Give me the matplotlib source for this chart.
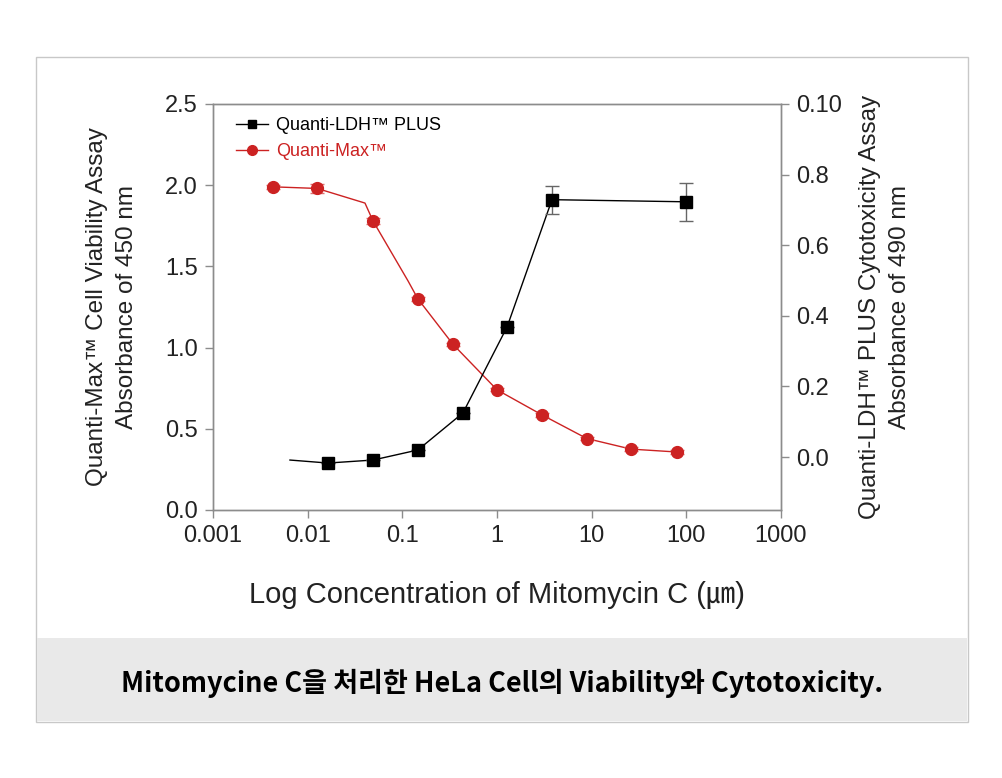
import matplotlib
matplotlib.use("Agg")
import matplotlib.pyplot as plt
from matplotlib.patches import Rectangle

# Quanti-Max (left axis, absorbance 450 nm)
max_conc = [0.0043, 0.0126, 0.049, 0.146, 0.343, 1.0, 3.0, 8.9, 26, 80]
max_abs = [1.99, 1.98, 1.78, 1.30, 1.02, 0.74, 0.585, 0.44, 0.375, 0.357]
max_err = [0.012, 0.025, 0.02, 0.012, 0.01, 0.01, 0.01, 0.01, 0.01, 0.01]
# fitted curve drawn under the markers
max_fit_x = [0.0043, 0.0126, 0.0403, 0.049, 0.115, 0.146, 0.343, 1.0, 3.0, 8.9, 26, 80]
max_fit_y = [1.99, 1.98, 1.89, 1.78, 1.41, 1.30, 1.02, 0.74, 0.585, 0.44, 0.375, 0.357]

# Quanti-LDH PLUS (right axis, absorbance 490 nm)
ldh_conc = [0.0164, 0.049, 0.146, 0.437, 1.28, 3.81, 99]
ldh_abs = [-0.017, -0.0085, 0.02, 0.125, 0.369, 0.729, 0.723]
ldh_err = [0.0, 0.0, 0.0, 0.0, 0.0, 0.04, 0.054]
ldh_fit_x = [0.0065, 0.0164, 0.049, 0.146, 0.437, 1.28, 3.81, 99]
ldh_fit_y = [-0.0085, -0.017, -0.0085, 0.02, 0.125, 0.369, 0.729, 0.723]

x_ticks = [0.001, 0.01, 0.1, 1, 10, 100, 1000]
x_labels = ["0.001", "0.01", "0.1", "1", "10", "100", "1000"]
left_ticks = [0.0, 0.5, 1.0, 1.5, 2.0, 2.5]
right_ticks = [0.0, 0.2, 0.4, 0.6, 0.8, 1.0]
right_labels = ["0.0", "0.2", "0.4", "0.6", "0.8", "0.10"]

RED = "#cc2222"
GREY = "#8c8c8c"
FONT = ["Liberation Sans", "Noto Sans CJK KR"]

plt.rcParams["font.family"] = FONT

fig = plt.figure(figsize=(10.03, 7.78), dpi=100)

# outer frame and caption band
fig.patches.append(Rectangle((36 / 1003, 1 - 722 / 778), 932 / 1003, 665 / 778,
                             transform=fig.transFigure, facecolor="white",
                             edgecolor="#c8c8c8", lw=1, zorder=-2))
fig.patches.append(Rectangle((37 / 1003, 1 - 721 / 778), 930 / 1003, 83 / 778,
                             transform=fig.transFigure, facecolor="#e9e9e9",
                             edgecolor="none", zorder=-1))

ax = fig.add_axes([213 / 1003, 1 - 510 / 778, 568 / 1003, 406 / 778])
ax.patch.set_alpha(0)
ax2 = ax.twinx()
ax2.patch.set_alpha(0)

ax.set_xscale("log")
ax.set_xlim(0.001, 1000)
ax.set_ylim(0, 2.5)
ax2.set_ylim(-0.15, 1.0)

ax.set_xticks(x_ticks)
ax.set_xticklabels(x_labels)
ax.xaxis.set_minor_locator(matplotlib.ticker.NullLocator())
ax.set_yticks(left_ticks)
ax.set_yticklabels(["%.1f" % v for v in left_ticks])
ax2.set_yticks(right_ticks)
ax2.set_yticklabels(right_labels)

for a in (ax, ax2):
    for s in a.spines.values():
        s.set_color(GREY)
        s.set_linewidth(1)
    a.tick_params(direction="out", length=6, width=1, color=GREY,
                  labelsize=17, labelcolor="#222222", pad=5)

# red curve + markers (left)
ax.plot(max_fit_x, max_fit_y, color=RED, lw=1, zorder=2)
ax.errorbar(max_conc, max_abs, yerr=max_err, fmt="none", ecolor="#e07070",
            elinewidth=1, capsize=5, zorder=3)
ax.plot(max_conc, max_abs, "o", color=RED, ms=8.5, zorder=4)

# black curve + markers (right)
ax2.plot(ldh_fit_x, ldh_fit_y, color="black", lw=1, zorder=2)
ax2.errorbar(ldh_conc, ldh_abs, yerr=ldh_err, fmt="none", ecolor="#666666",
             elinewidth=1, capsize=5, zorder=3)
ax2.plot(ldh_conc, ldh_abs, "s", color="black", ms=8.5, zorder=4)

# legend
h1, = ax2.plot([], [], "-s", color="black", ms=6, lw=1)
h2, = ax2.plot([], [], "-o", color=RED, ms=7, lw=1)
leg = ax2.legend([h1, h2], ["Quanti-LDH™ PLUS", "Quanti-Max™"], loc="upper left",
                 frameon=False, fontsize=13, handlelength=1.75, handletextpad=0.45,
                 labelspacing=0.5, borderaxespad=0.0, bbox_to_anchor=(0.028, 0.985))
leg.get_texts()[1].set_color(RED)

fig.text(112 / 1003, 1 - 307 / 778,
         "Quanti-Max™ Cell Viability Assay\nAbsorbance of 450 nm",
         rotation=90, ha="center", va="center", multialignment="center",
         fontsize=17.5, color="#222222", linespacing=1.42)
fig.text(885 / 1003, 1 - 307 / 778,
         "Quanti-LDH™ PLUS Cytotoxicity Assay\nAbsorbance of 490 nm",
         rotation=90, ha="center", va="center", multialignment="center",
         fontsize=17.5, color="#222222", linespacing=1.42)
fig.text(497 / 1003, 1 - 595 / 778, "Log Concentration of Mitomycin C (㎛)",
         ha="center", va="center", fontsize=21, color="#222222")

fig.text(502 / 1003, 1 - 683 / 778,
         "Mitomycine C을 처리한 HeLa Cell의 Viability와 Cytotoxicity.",
         ha="center", va="center", fontsize=19.5, fontweight="bold",
         family=["Noto Sans CJK KR"], color="black")

fig.savefig("out.png", dpi=100)
